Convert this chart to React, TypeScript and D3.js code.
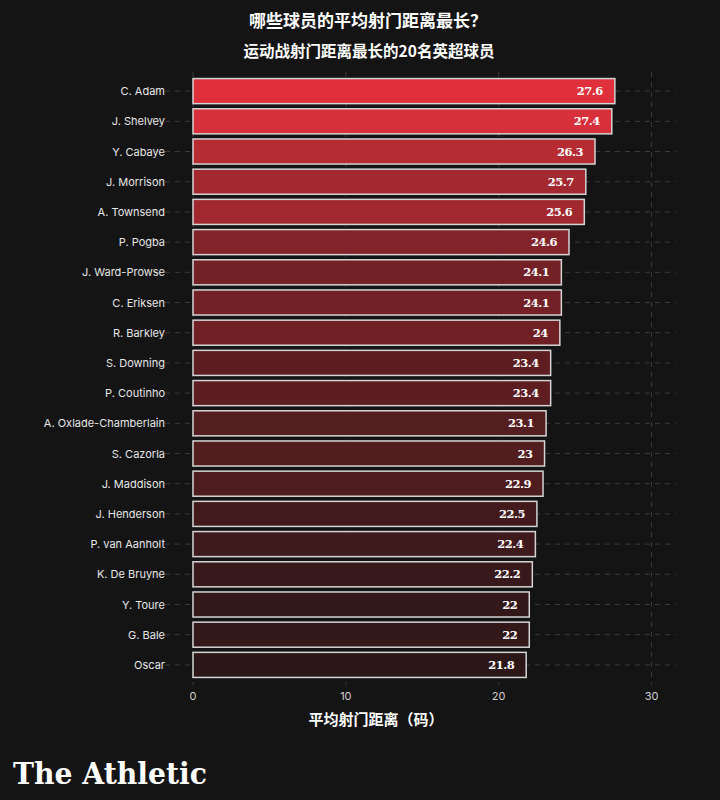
import React from "react";
import * as d3 from "d3";

const WIDTH = 720;
const HEIGHT = 800;
const MARGIN = { top: 76, right: 44, bottom: 120, left: 193 };
const BAR_PADDING = 0.17;

const players = [
  "C. Adam", "J. Shelvey", "Y. Cabaye", "J. Morrison", "A. Townsend",
  "P. Pogba", "J. Ward-Prowse", "C. Eriksen", "R. Barkley", "S. Downing",
  "P. Coutinho", "A. Oxlade-Chamberlain", "S. Cazorla", "J. Maddison", "J. Henderson",
  "P. van Aanholt", "K. De Bruyne", "Y. Toure", "G. Bale", "Oscar",
];
const distances = [
  27.6, 27.4, 26.3, 25.7, 25.6,
  24.6, 24.1, 24.1, 24, 23.4,
  23.4, 23.1, 23, 22.9, 22.5,
  22.4, 22.2, 22, 22, 21.8,
];
const xTicks = [0, 10, 20, 30];

const title = "哪些球员的平均射门距离最长？";
const subtitle = "运动战射门距离最长的20名英超球员";
const xTitle = "平均射门距离（码）";

const CJK = "'Noto Sans CJK SC', 'Noto Sans', sans-serif";
const SANS = "Inter, 'Noto Sans', sans-serif";
const SLAB = "'DejaVu Serif', serif";

export default function App() {
  const boundsWidth = WIDTH - MARGIN.left - MARGIN.right;
  const boundsHeight = HEIGHT - MARGIN.top - MARGIN.bottom;

  const xScale = d3.scaleLinear().domain([0, 31.6]).range([0, boundsWidth]);
  const yScale = d3
    .scaleBand()
    .domain(players)
    .range([0, boundsHeight])
    .paddingInner(BAR_PADDING)
    .paddingOuter(BAR_PADDING / 2);

  // bars get redder as the distance grows
  const color = d3
    .scaleLinear<string>()
    .domain([d3.min(distances) || 0, d3.max(distances) || 1])
    .range(["#2d1718", "#ea323d"])
    .interpolate(d3.interpolateRgb);

  const grid = (
    <g>
      {xTicks.map((t) => (
        <line
          key={"v" + t}
          x1={xScale(t)}
          x2={xScale(t)}
          y1={-4}
          y2={boundsHeight + 5}
          stroke="#3a3a3a"
          strokeDasharray="5,5"
        />
      ))}
      {players.map((p) => {
        const y = (yScale(p) || 0) + yScale.bandwidth() / 2;
        return (
          <line
            key={"h" + p}
            x1={-38}
            x2={boundsWidth}
            y1={y}
            y2={y}
            stroke="#3a3a3a"
            strokeDasharray="5,5"
          />
        );
      })}
    </g>
  );

  const bars = players.map((p, i) => {
    const y = yScale(p);
    if (y === undefined) return null;
    const w = xScale(distances[i]);
    return (
      <g key={p}>
        <rect
          x={xScale(0)}
          y={y}
          width={w}
          height={yScale.bandwidth()}
          fill={color(distances[i])}
          fillOpacity={0.95}
          stroke="#d4d4d4"
          strokeWidth={1.5}
        />
        <text
          x={w - 12}
          y={y + yScale.bandwidth() / 2}
          textAnchor="end"
          dominantBaseline="central"
          fontFamily={SLAB}
          fontWeight="bold"
          fontSize={11.5}
          letterSpacing={-0.5}
          fill="#ffffff"
        >
          {d3.format("~")(distances[i])}
        </text>
        <text
          x={-28}
          y={y + yScale.bandwidth() / 2}
          textAnchor="end"
          dominantBaseline="central"
          fontFamily={SANS}
          fontSize={11}
          fill="#e6e6e6"
        >
          {p}
        </text>
      </g>
    );
  });

  const xAxis = xTicks.map((t) => (
    <text
      key={t}
      x={xScale(t)}
      y={boundsHeight + 16}
      textAnchor="middle"
      dominantBaseline="central"
      fontFamily={SANS}
      fontSize={11}
      fill="#d0d0d0"
    >
      {t}
    </text>
  ));

  return (
    <div style={{ position: "absolute", left: 0, top: 0 }}>
      <svg width={WIDTH} height={HEIGHT} style={{ display: "block" }}>
        <rect width={WIDTH} height={HEIGHT} fill="#141414" />
        <text
          x={368}
          y={27}
          textAnchor="middle"
          fontFamily={CJK}
          fontWeight="bold"
          fontSize={17}
          fill="#ffffff"
        >
          {title}
        </text>
        <text
          x={369}
          y={57}
          textAnchor="middle"
          fontFamily={CJK}
          fontWeight="bold"
          fontSize={15.5}
          fill="#ffffff"
        >
          {subtitle}
        </text>
        <g transform={`translate(${MARGIN.left},${MARGIN.top})`}>
          {grid}
          {bars}
          {xAxis}
        </g>
        <text
          x={376}
          y={725}
          textAnchor="middle"
          fontFamily={CJK}
          fontWeight="bold"
          fontSize={15}
          fill="#ffffff"
        >
          {xTitle}
        </text>
        <text
          x={13}
          y={784}
          fontFamily={SLAB}
          fontWeight="bold"
          fontSize={29}
          textLength={194}
          lengthAdjust="spacingAndGlyphs"
          fill="#ffffff"
        >
          The Athletic
        </text>
      </svg>
    </div>
  );
}
